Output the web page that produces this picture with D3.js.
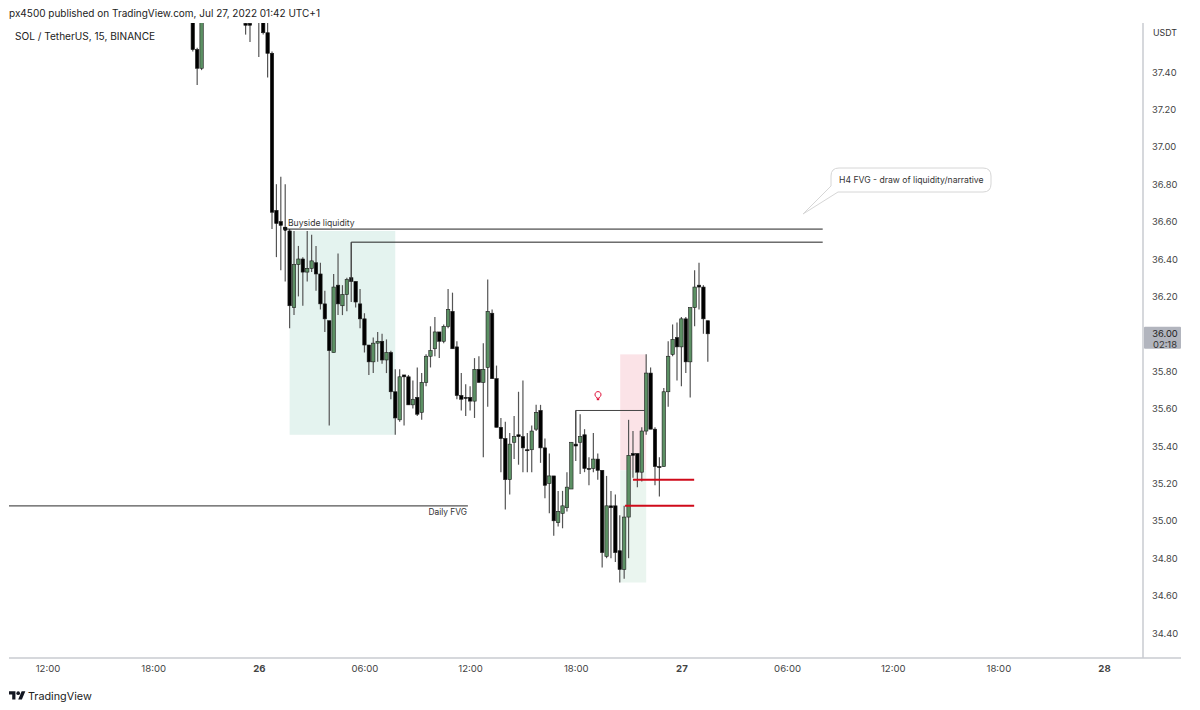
<!DOCTYPE html>
<html>
<head>
<meta charset="utf-8">
<script src="https://cdn.jsdelivr.net/npm/d3@7"></script>
<style>
  html, body { margin: 0; padding: 0; background: #fff; }
  svg { display: block; }
  text { font-family: Inter, "Liberation Sans", sans-serif; }
</style>
</head>
<body>
<div id="chart"></div>
<script>
// SOL / USDT 15 min candles, slot = number of 15 min bars after Jul 26 00:00
var slots = [-15,-14,-13,-3,-2,0,1,2,3,4,5,6,7,8,9,10,11,12,13,14,15,16,17,18,19,20,21,22,23,24,25,26,27,28,29,30,31,32,33,34,35,36,37,38,39,40,41,42,43,44,45,46,47,48,49,50,51,52,53,54,55,56,57,58,59,60,61,62,63,64,65,66,67,68,69,70,71,72,73,74,75,76,77,78,79,80,81,82,83,84,85,86,87,88,89,90,91,92,93,94,95,96,97,98,99,100,101,102];
var opens = [37.80,37.52,37.42,37.66,37.66,37.75,37.70,37.61,37.50,36.66,36.60,36.57,36.55,36.14,36.37,36.40,36.33,36.35,36.38,36.32,36.16,36.07,35.90,36.26,36.15,36.21,36.30,36.28,36.16,36.08,35.94,35.85,35.95,35.96,35.86,35.90,35.69,35.54,35.78,35.77,35.62,35.66,35.58,35.74,35.88,35.92,36.01,35.96,36.04,36.12,35.93,35.67,35.66,35.66,35.64,35.81,35.74,35.82,36.11,35.76,35.50,35.44,35.22,35.42,35.46,35.45,35.38,35.38,35.49,35.59,35.39,35.20,35.24,34.99,35.04,35.07,35.17,35.41,35.42,35.46,35.28,35.28,35.33,35.27,34.81,35.08,35.08,34.84,34.74,35.02,35.36,35.36,35.26,35.48,35.79,35.49,35.29,35.29,35.69,35.89,35.98,35.93,36.08,35.85,36.14,36.26,36.25,36.07];
var highs = [37.85,37.53,37.75,37.70,37.70,37.80,37.72,37.68,37.51,36.80,36.84,36.80,36.56,36.55,36.47,36.41,36.55,36.53,36.47,36.38,36.23,36.07,36.32,36.43,36.26,36.30,36.49,36.28,36.24,36.11,35.94,35.98,36.01,36.00,35.97,35.91,35.81,35.81,35.78,35.78,35.75,35.82,35.79,35.89,36.04,36.09,36.01,36.05,36.24,36.22,35.96,35.79,35.73,35.72,35.87,35.88,35.95,36.29,36.13,35.83,35.55,35.53,35.47,35.56,35.69,35.75,35.47,35.51,35.62,35.62,35.44,35.36,35.24,35.16,35.16,35.26,35.42,35.59,35.57,35.49,35.34,35.47,35.36,35.27,35.24,35.16,35.14,35.03,35.08,35.54,35.48,35.36,35.50,35.89,35.82,35.50,35.34,35.71,35.96,36.05,36.06,36.09,36.09,36.14,36.34,36.38,36.26,36.07];
var lows = [37.51,37.33,37.41,37.60,37.56,37.48,37.60,37.37,36.56,36.41,36.34,36.28,36.03,36.10,36.20,36.15,36.28,36.33,36.23,36.13,36.01,35.51,35.90,36.10,36.10,36.12,36.17,36.14,36.03,35.90,35.78,35.79,35.85,35.84,35.79,35.65,35.46,35.53,35.51,35.62,35.60,35.56,35.54,35.72,35.82,35.88,35.87,35.95,36.03,35.92,35.65,35.59,35.56,35.59,35.55,35.74,35.34,35.61,35.76,35.50,35.26,35.06,35.14,35.33,35.30,35.26,35.26,35.26,35.48,35.31,35.12,35.04,34.92,34.97,34.96,35.05,35.17,35.32,35.25,35.26,35.19,35.26,35.22,34.75,34.80,34.80,34.78,34.67,34.69,34.80,35.23,35.18,35.21,35.46,35.49,35.19,35.13,35.29,35.61,35.88,35.75,35.72,35.79,35.66,36.04,36.13,36.00,35.85];
var closes = [37.52,37.42,37.70,37.65,37.65,37.70,37.61,37.50,36.65,36.59,36.58,36.56,36.15,36.37,36.40,36.33,36.35,36.39,36.32,36.16,36.08,35.91,36.25,36.16,36.21,36.29,36.28,36.17,36.08,35.94,35.85,35.95,35.96,35.86,35.90,35.69,35.55,35.77,35.77,35.62,35.65,35.57,35.74,35.88,35.91,36.01,35.96,36.04,36.13,35.92,35.67,35.65,35.66,35.64,35.81,35.74,35.81,36.12,35.76,35.50,35.44,35.22,35.41,35.45,35.45,35.39,35.38,35.48,35.58,35.39,35.19,35.24,35.00,35.05,35.08,35.18,35.42,35.40,35.45,35.28,35.28,35.33,35.27,34.83,35.08,35.07,34.83,34.74,35.02,35.35,35.35,35.26,35.48,35.79,35.49,35.29,35.29,35.69,35.88,35.97,35.93,36.08,35.85,36.14,36.25,36.25,36.08,36.00];

var priceTicks = [37.4,37.2,37.0,36.8,36.6,36.4,36.2,36.0,35.8,35.6,35.4,35.2,35.0,34.8,34.6,34.4];
var timeTicks = ["2022-07-25T12:00Z","2022-07-25T18:00Z","2022-07-26T00:00Z","2022-07-26T06:00Z","2022-07-26T12:00Z","2022-07-26T18:00Z","2022-07-27T00:00Z","2022-07-27T06:00Z","2022-07-27T12:00Z","2022-07-27T18:00Z","2022-07-28T00:00Z"];
var lastPrice = 36.00;

// drawings, in slots and prices
var zoneSlots = [[7, 31], [82.1, 88]];
var zonePrices = [[36.55, 35.46], [35.89, 35.27], [35.27, 34.67]];
var longLines = [[6, 36.56, 128.1], [21, 36.49, 128.1]];
var daysFvg = [-57, 35.08, 47.5];
var frameLine = [72, 35.59, 87.7, 35.41];
var redLines = [[85, 35.22, 98.9], [83.2, 35.08, 98.9]];

var svgWidth = 1200;
var svgHeight = 710;
var plot = { left: 9, right: 1143, top: 23, bottom: 658 };

var svg = d3.select("#chart")
    .append("svg")
    .attr("width", svgWidth)
    .attr("height", svgHeight);

var xScale = d3.scaleUtc()
    .domain([new Date("2022-07-25T12:00Z"), new Date("2022-07-28T00:00Z")])
    .range([47.5, 1104]);

var yScale = d3.scaleLinear()
    .domain([37.4, 34.4])
    .range([72, 633]);

var slotZero = +new Date("2022-07-26T00:00Z");
function slotX(s) {
    return xScale(new Date(slotZero + s * 15 * 60000));
}

svg.append("clipPath")
    .attr("id", "plotClip")
    .append("rect")
    .attr("x", plot.left)
    .attr("y", plot.top)
    .attr("width", plot.right - plot.left)
    .attr("height", plot.bottom - plot.top);

var chartGroup = svg.append("g").attr("clip-path", "url(#plotClip)");

// shaded zones
var zones = [
    { s: zoneSlots[0], p: zonePrices[0], fill: "#e4f3ef" },
    { s: zoneSlots[1], p: zonePrices[1], fill: "#fbe3e7" },
    { s: zoneSlots[1], p: zonePrices[2], fill: "#eaf5ef" }
];
chartGroup.selectAll(".zone")
    .data(zones)
    .enter()
    .append("rect")
    .attr("class", "zone")
    .attr("x", d => slotX(d.s[0]))
    .attr("width", d => slotX(d.s[1]) - slotX(d.s[0]))
    .attr("y", d => yScale(d.p[0]))
    .attr("height", d => yScale(d.p[1]) - yScale(d.p[0]))
    .attr("fill", d => d.fill);

// wicks
chartGroup.selectAll(".wick")
    .data(slots)
    .enter()
    .append("line")
    .attr("class", "wick")
    .attr("x1", d => slotX(d))
    .attr("x2", d => slotX(d))
    .attr("y1", (d, i) => yScale(highs[i]))
    .attr("y2", (d, i) => yScale(lows[i]))
    .attr("stroke", "#555")
    .attr("stroke-width", 1.2);

// bodies
chartGroup.selectAll(".body")
    .data(slots)
    .enter()
    .append("rect")
    .attr("class", "body")
    .attr("x", d => slotX(d) - 1.7)
    .attr("width", 3.4)
    .attr("y", (d, i) => yScale(Math.max(opens[i], closes[i])))
    .attr("height", (d, i) => Math.max(1, Math.abs(yScale(opens[i]) - yScale(closes[i]))))
    .attr("fill", (d, i) => closes[i] > opens[i] ? "#5c9064" : "#000")
    .attr("stroke", "#1c1c1c")
    .attr("stroke-width", 0.6);

// horizontal level lines
chartGroup.selectAll(".level")
    .data(longLines)
    .enter()
    .append("line")
    .attr("class", "level")
    .attr("x1", d => slotX(d[0]))
    .attr("x2", d => slotX(d[2]))
    .attr("y1", d => yScale(d[1]))
    .attr("y2", d => yScale(d[1]))
    .attr("stroke", "#222")
    .attr("stroke-width", 1);

chartGroup.append("circle")
    .attr("cx", slotX(longLines[0][0]))
    .attr("cy", yScale(longLines[0][1]))
    .attr("r", 2)
    .attr("fill", "#111");

chartGroup.append("path")
    .attr("d", d3.line()([
        [slotX(21), yScale(closes[slots.indexOf(21)])],
        [slotX(21), yScale(longLines[1][1])]
    ]))
    .attr("stroke", "#444")
    .attr("fill", "none");

chartGroup.append("path")
    .attr("d", d3.line()([
        [slotX(frameLine[0]), yScale(frameLine[3])],
        [slotX(frameLine[0]), yScale(frameLine[1])],
        [slotX(frameLine[2]), yScale(frameLine[1])]
    ]))
    .attr("stroke", "#444")
    .attr("stroke-width", 1)
    .attr("fill", "none");

chartGroup.append("line")
    .attr("x1", slotX(daysFvg[0]))
    .attr("x2", slotX(daysFvg[2]))
    .attr("y1", yScale(daysFvg[1]))
    .attr("y2", yScale(daysFvg[1]))
    .attr("stroke", "#555")
    .attr("stroke-width", 1.3);

chartGroup.selectAll(".red")
    .data(redLines)
    .enter()
    .append("line")
    .attr("class", "red")
    .attr("x1", d => slotX(d[0]))
    .attr("x2", d => slotX(d[2]))
    .attr("y1", d => yScale(d[1]))
    .attr("y2", d => yScale(d[1]))
    .attr("stroke", "#cf0a1a")
    .attr("stroke-width", 2);

chartGroup.append("text")
    .attr("x", 288)
    .attr("y", 226)
    .style("font-size", "8.6px")
    .style("fill", "#333")
    .text("Buyside liquidity");

chartGroup.append("text")
    .attr("x", 467)
    .attr("y", 515)
    .style("font-size", "8.4px")
    .style("text-anchor", "end")
    .style("fill", "#333")
    .text("Daily FVG");

// idea bulb
var bulb = svg.append("g").attr("transform", "translate(598, 395)");
bulb.append("path")
    .attr("d", "M-1.5,2.2 A3,3 0 1 1 1.5,2.2 L1.2,3.2 L-1.2,3.2 Z")
    .attr("fill", "#fff")
    .attr("stroke", "#e0123a")
    .attr("stroke-width", 1);
bulb.append("rect")
    .attr("x", -1.2)
    .attr("y", 3.6)
    .attr("width", 2.4)
    .attr("height", 1.6)
    .attr("fill", "#e0123a");

// callout
svg.append("path")
    .attr("d", "M839,168 H983 Q991,168 991,176 V184 Q991,192 983,192 H838 L803,214 L831,186 V176 Q831,168 839,168 Z")
    .attr("fill", "#fff")
    .attr("stroke", "#d6d6d6")
    .attr("stroke-width", 1);
svg.append("text")
    .attr("x", 839)
    .attr("y", 183)
    .style("font-size", "8.65px")
    .style("fill", "#333")
    .text("H4 FVG - draw of liquidity/narrative");

// axes
var rightAxis = d3.axisRight(yScale)
    .tickValues(priceTicks)
    .tickSize(0)
    .tickPadding(9)
    .tickFormat(d3.format(".2f"));

var yAxisGroup = svg.append("g")
    .attr("transform", `translate(${plot.right}, 0)`)
    .call(rightAxis);
yAxisGroup.select(".domain").remove();
yAxisGroup.selectAll("text")
    .style("font-size", "9.4px")
    .style("fill", "#444");

var bottomAxis = d3.axisBottom(xScale)
    .tickValues(timeTicks.map(d => new Date(d)))
    .tickSize(0)
    .tickPadding(7)
    .tickFormat(function(d) {
        return d.getUTCHours() === 0 ? d3.utcFormat("%-d")(d) : d3.utcFormat("%H:%M")(d);
    });

var xAxisGroup = svg.append("g")
    .attr("transform", `translate(0, ${plot.bottom})`)
    .call(bottomAxis);
xAxisGroup.select(".domain").remove();
xAxisGroup.selectAll("text")
    .style("font-size", "9.6px")
    .style("fill", "#444")
    .style("font-weight", d => d.getUTCHours() === 0 ? 700 : 400);

// frame
svg.append("line")
    .attr("x1", plot.right).attr("x2", plot.right)
    .attr("y1", plot.top).attr("y2", plot.bottom)
    .attr("stroke", "#c9cbd1").attr("stroke-width", 1.5);
svg.append("line")
    .attr("x1", plot.left).attr("x2", 1181)
    .attr("y1", plot.bottom).attr("y2", plot.bottom)
    .attr("stroke", "#c9cbd1").attr("stroke-width", 1.5);

svg.append("text")
    .attr("x", 1153)
    .attr("y", 36)
    .style("font-size", "8.8px")
    .style("fill", "#333")
    .text("USDT");

// last price tag
svg.append("rect")
    .attr("x", plot.right + 1)
    .attr("y", yScale(lastPrice) - 7)
    .attr("width", 37)
    .attr("height", 22)
    .attr("rx", 1)
    .attr("fill", "#b2b5be");
svg.append("text")
    .attr("x", 1165)
    .attr("y", yScale(lastPrice) + 3)
    .style("font-size", "9.4px")
    .style("text-anchor", "middle")
    .style("fill", "#222")
    .text(d3.format(".2f")(lastPrice));
svg.append("text")
    .attr("x", 1165)
    .attr("y", yScale(lastPrice) + 14)
    .style("font-size", "9.4px")
    .style("text-anchor", "middle")
    .style("fill", "#333")
    .text("02:18");

// header and footer
svg.append("text")
    .attr("x", 9)
    .attr("y", 17)
    .style("font-size", "10px")
    .style("fill", "#222")
    .text("px4500 published on TradingView.com, Jul 27, 2022 01:42 UTC+1");

svg.append("text")
    .attr("x", 15)
    .attr("y", 40)
    .style("font-size", "10.1px")
    .style("fill", "#222")
    .text("SOL / TetherUS, 15, BINANCE");

var logo = svg.append("g")
    .attr("transform", "translate(9, 689.5) scale(0.46)")
    .attr("fill", "#131722");
logo.append("path").attr("d", "M14 22H7V11H0V4h14v18ZM28 22h-8l7.5-18h8L28 22Z");
logo.append("circle").attr("cx", 20).attr("cy", 8).attr("r", 4);

svg.append("text")
    .attr("x", 28)
    .attr("y", 699.5)
    .style("font-size", "10.8px")
    .style("fill", "#222")
    .text("TradingView");
</script>
</body>
</html>
